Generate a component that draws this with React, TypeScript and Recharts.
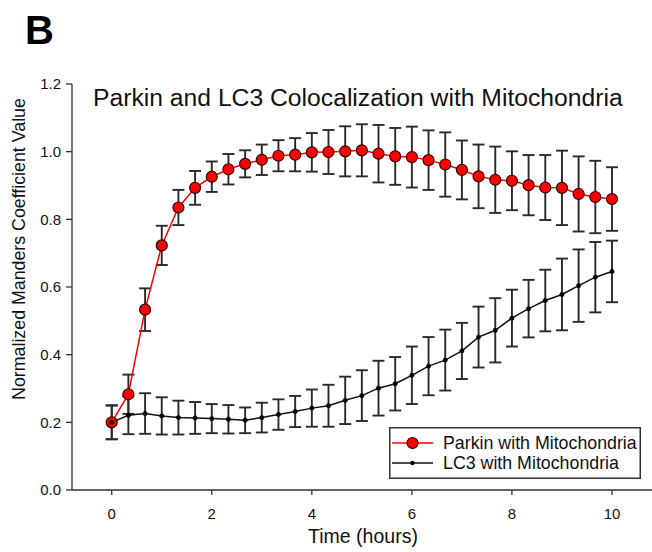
import React from 'react';
import { ComposedChart, Line, XAxis, YAxis, ErrorBar, Legend } from 'recharts';

// sampling times (every 20 min)
const hours = [
  0, 0.333, 0.667, 1, 1.333, 1.667, 2, 2.333, 2.667, 3, 3.333, 3.667, 4, 4.333, 4.667, 5,
  5.333, 5.667, 6, 6.333, 6.667, 7, 7.333, 7.667, 8, 8.333, 8.667, 9, 9.333, 9.667, 10,
];

const parkin = [
  0.2, 0.283, 0.533, 0.723, 0.835, 0.893, 0.926, 0.948, 0.964, 0.976, 0.988, 0.991, 0.998, 0.999, 1.001, 1.004,
  0.994, 0.986, 0.984, 0.975, 0.962, 0.946, 0.927, 0.917, 0.914, 0.901, 0.894, 0.893, 0.875, 0.866, 0.86,
];
const parkinErr = [
  0.05, 0.058, 0.063, 0.058, 0.052, 0.05, 0.045, 0.045, 0.04, 0.045, 0.046, 0.049, 0.057, 0.065, 0.074, 0.077,
  0.085, 0.084, 0.09, 0.088, 0.095, 0.087, 0.094, 0.098, 0.087, 0.089, 0.096, 0.11, 0.111, 0.107, 0.094,
];

const lc3 = [
  0.2, 0.221, 0.226, 0.219, 0.214, 0.213, 0.211, 0.209, 0.206, 0.214, 0.223, 0.232, 0.242, 0.249, 0.265, 0.279,
  0.301, 0.314, 0.339, 0.366, 0.384, 0.411, 0.452, 0.472, 0.508, 0.536, 0.56, 0.578, 0.604, 0.629, 0.646,
];
const lc3Err = [
  0.05, 0.056, 0.06, 0.055, 0.05, 0.047, 0.043, 0.042, 0.038, 0.044, 0.045, 0.046, 0.055, 0.062, 0.07, 0.075,
  0.081, 0.079, 0.085, 0.086, 0.09, 0.083, 0.09, 0.095, 0.084, 0.085, 0.091, 0.106, 0.107, 0.104, 0.091,
];

const xTicks = [0, 2, 4, 6, 8, 10];
const yTicks = [0, 0.2, 0.4, 0.6, 0.8, 1.0, 1.2];

const data = hours.map((t, i) => ({
  t,
  parkin: parkin[i],
  parkinErr: parkinErr[i],
  lc3: lc3[i],
  lc3Err: lc3Err[i],
}));

const FONT = '"Liberation Sans", Arial, sans-serif';
const AXIS = '#333';

const renderLegend = () => (
  <svg width={252} height={52} style={{ display: 'block' }}>
    <rect x={0.75} y={0.75} width={250.5} height={50.5} fill="#fff" stroke={AXIS} strokeWidth={1.5} />
    <line x1={3} y1={16} x2={44} y2={16} stroke="#ff0000" strokeWidth={1.5} />
    <circle cx={23.5} cy={16} r={5.5} fill="#ff0000" stroke="#300" strokeWidth={1.2} />
    <text x={54} y={16} dominantBaseline="central" fontSize={17.8} fontFamily={FONT} fill="#111">
      Parkin with Mitochondria
    </text>
    <line x1={3} y1={36} x2={44} y2={36} stroke="#111" strokeWidth={1.5} />
    <circle cx={23.5} cy={36} r={2.2} fill="#000" />
    <text x={54} y={36} dominantBaseline="central" fontSize={17.8} fontFamily={FONT} fill="#111">
      LC3 with Mitochondria
    </text>
  </svg>
);

export default function App() {
  return (
    <div style={{ position: 'absolute', left: 0, top: 0, width: 652, height: 552, background: '#fff' }}>
      <ComposedChart
        width={652}
        height={552}
        data={data}
        margin={{ top: 84, right: 0, bottom: 0, left: 0 }}
        style={{ fontFamily: FONT }}
      >
        <XAxis
          dataKey="t"
          type="number"
          domain={[-0.794, 10.8]}
          allowDataOverflow
          ticks={xTicks}
          height={62}
          tickSize={5}
          tickMargin={13}
          stroke={AXIS}
          strokeWidth={1.3}
          tick={{ fill: '#111', fontSize: 15 }}
          label={{
            content: () => (
              <text x={363} y={543} textAnchor="middle" fontSize={19.5} fontFamily={FONT} fill="#111">
                Time (hours)
              </text>
            ),
          }}
        />
        <YAxis
          type="number"
          domain={[0, 1.2]}
          allowDataOverflow
          ticks={yTicks}
          width={72}
          tickSize={6}
          tickMargin={5}
          stroke={AXIS}
          strokeWidth={1.3}
          tick={{ fill: '#111', fontSize: 15 }}
          tickFormatter={(v: number) => v.toFixed(1)}
          label={{
            content: () => (
              <text
                transform="translate(25,249) rotate(-90)"
                textAnchor="middle"
                fontSize={17.8}
                fontFamily={FONT}
                fill="#111"
              >
                Normalized Manders Coefficient Value
              </text>
            ),
          }}
        />
        <Legend
          content={renderLegend}
          layout="horizontal"
          verticalAlign="middle"
          align="center"
          wrapperStyle={{ left: 389, top: 427, width: 252, height: 52 }}
        />
        <Line
          dataKey="parkin"
          name="Parkin with Mitochondria"
          type="linear"
          stroke="#ff0000"
          strokeWidth={1.5}
          dot={{ r: 5.5, fill: '#ff0000', stroke: '#300', strokeWidth: 1.2 }}
          isAnimationActive={false}
        >
          <ErrorBar dataKey="parkinErr" direction="y" width={6} stroke="#2a2a2a" strokeWidth={1.9} />
        </Line>
        <Line
          dataKey="lc3"
          name="LC3 with Mitochondria"
          type="linear"
          stroke="#111"
          strokeWidth={1.5}
          dot={{ r: 2.2, fill: '#000', stroke: '#000', strokeWidth: 0.5 }}
          isAnimationActive={false}
        >
          <ErrorBar dataKey="lc3Err" direction="y" width={6} stroke="#2a2a2a" strokeWidth={1.9} />
        </Line>
      </ComposedChart>
      <svg
        width={652}
        height={552}
        style={{ position: 'absolute', left: 0, top: 0, pointerEvents: 'none' }}
      >
        <text x={25} y={44} fontSize={40} fontWeight="bold" fontFamily={FONT} fill="#000">
          B
        </text>
        <text x={93} y={106} fontSize={24.7} fontFamily={FONT} fill="#111">
          Parkin and LC3 Colocalization with Mitochondria
        </text>
      </svg>
    </div>
  );
}
